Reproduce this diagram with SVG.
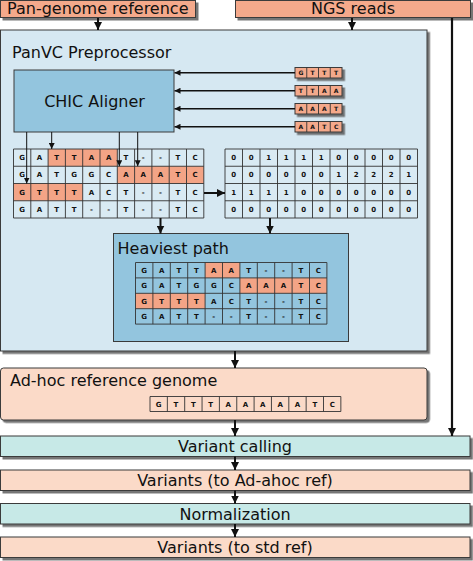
<svg xmlns="http://www.w3.org/2000/svg" width="473" height="561" viewBox="0 0 473 561">
<style>
text{font-family:"DejaVu Sans","Liberation Sans",sans-serif;fill:#111}
.t{font-size:16px}
.c{text-anchor:middle}
.m{font-size:7px;font-weight:bold;text-anchor:middle}
.r{font-size:6px;font-weight:bold;text-anchor:middle}
.box{stroke:#3a3a3a;stroke-width:1}
.org{fill:#f4a98b}
.peach{fill:#fbdac8}
.cyan{fill:#c7e9e7}
.pan{fill:#d6e8f2}
.blue{fill:#93c5de}
.grid{fill:none;stroke:#333;stroke-width:0.9}
.hl{fill:#f3a486}
.cn{stroke:#111;fill:none}
</style>
<defs>
<filter id="sh" x="-5%" y="-5%" width="115%" height="130%">
<feDropShadow dx="2.5" dy="2.5" stdDeviation="0.6" flood-color="#555" flood-opacity="0.8"/>
</filter>
<marker id="ah" viewBox="0 0 10 10" refX="10" refY="5" markerWidth="8" markerHeight="8" markerUnits="userSpaceOnUse" orient="auto">
<path d="M0,0 L10,5 L0,10 z" fill="#111"/>
</marker>
<marker id="as" viewBox="0 0 10 10" refX="10" refY="5" markerWidth="6" markerHeight="6" markerUnits="userSpaceOnUse" orient="auto">
<path d="M0,0 L10,5 L0,10 z" fill="#111"/>
</marker>
</defs>

<g id="pan-genome">
<rect class="box org" x="0.5" y="0.5" width="195" height="17" filter="url(#sh)"/>
<text class="t" x="7" y="14">Pan-genome reference</text>
</g>
<g id="ngs-reads">
<rect class="box org" x="235.5" y="0.5" width="235" height="17" filter="url(#sh)"/>
<text class="t c" x="353" y="14">NGS reads</text>
</g>

<g id="panvc">
<rect class="box pan" x="0.5" y="30" width="426.5" height="321" filter="url(#sh)"/>
<text class="t" x="12" y="58">PanVC Preprocessor</text>
</g>

<g id="chic">
<rect class="box blue" x="14" y="70" width="160" height="62"/>
<text class="t c" x="94.5" y="107">CHIC Aligner</text>
</g>

<g id="reads">
<g filter="url(#sh)">
<rect class="box org" x="295" y="67.5" width="47" height="10.5" stroke-width="0.8"/>
<rect class="box org" x="295" y="85.5" width="47" height="10.5" stroke-width="0.8"/>
<rect class="box org" x="295" y="103.5" width="47" height="10.5" stroke-width="0.8"/>
<rect class="box org" x="295" y="121.5" width="47" height="10.5" stroke-width="0.8"/>
</g>
<path class="grid" d="M306.75,67.5V78M318.5,67.5V78M330.25,67.5V78M306.75,85.5V96M318.5,85.5V96M330.25,85.5V96M306.75,103.5V114M318.5,103.5V114M330.25,103.5V114M306.75,121.5V132M318.5,121.5V132M330.25,121.5V132"/>
<text class="r" x="300.9 312.6 324.4 336.1" y="74.9">GTTT</text>
<text class="r" x="300.9 312.6 324.4 336.1" y="92.9">TTAA</text>
<text class="r" x="300.9 312.6 324.4 336.1" y="110.9">AAAT</text>
<text class="r" x="300.9 312.6 324.4 336.1" y="128.9">AATC</text>
</g>

<g id="alignment-matrix">
<rect x="13.5" y="149" width="190.3" height="69" fill="#d9eaf3"/>
<rect class="hl" x="48.1" y="149" width="69.2" height="17.25"/>
<rect class="hl" x="117.3" y="166.25" width="86.5" height="17.25"/>
<rect class="hl" x="13.5" y="183.5" width="69.2" height="17.25"/>
<path class="grid" d="M13.5,149H203.8V218H13.5z M30.8,149V218M48.1,149V218M65.4,149V218M82.7,149V218M100,149V218M117.3,149V218M134.6,149V218M151.9,149V218M169.2,149V218M186.5,149V218M13.5,166.25H203.8M13.5,183.5H203.8M13.5,200.75H203.8"/>
<text class="m" x="22.15 39.45 56.75 74.05 91.35 108.65 125.95 143.25 160.55 177.85 195.15" y="160.1">GATTAAT--TC</text>
<text class="m" x="22.15 39.45 56.75 74.05 91.35 108.65 125.95 143.25 160.55 177.85 195.15" y="177.4">GATGGCAAATC</text>
<text class="m" x="22.15 39.45 56.75 74.05 91.35 108.65 125.95 143.25 160.55 177.85 195.15" y="194.6">GTTTACT--TC</text>
<text class="m" x="22.15 39.45 56.75 74.05 91.35 108.65 125.95 143.25 160.55 177.85 195.15" y="211.9">GATT--T--TC</text>
</g>

<g id="coverage-matrix">
<rect x="225" y="149" width="192.5" height="69" fill="#d9eaf3"/>
<path class="grid" d="M225,149H417.5V218H225z M242.5,149V218M260,149V218M277.5,149V218M295,149V218M312.5,149V218M330,149V218M347.5,149V218M365,149V218M382.5,149V218M400,149V218M225,166.25H417.5M225,183.5H417.5M225,200.75H417.5"/>
<text class="m" x="233.75 251.25 268.75 286.25 303.75 321.25 338.75 356.25 373.75 391.25 408.75" y="160.1">00111100000</text>
<text class="m" x="233.75 251.25 268.75 286.25 303.75 321.25 338.75 356.25 373.75 391.25 408.75" y="177.4">00000012221</text>
<text class="m" x="233.75 251.25 268.75 286.25 303.75 321.25 338.75 356.25 373.75 391.25 408.75" y="194.6">11110000000</text>
<text class="m" x="233.75 251.25 268.75 286.25 303.75 321.25 338.75 356.25 373.75 391.25 408.75" y="211.9">00000000000</text>
</g>

<g id="heaviest-path">
<rect class="box blue" x="113.5" y="233.5" width="235" height="108"/>
<text class="t" x="117.5" y="253.5">Heaviest path</text>
<rect class="hl" x="205.1" y="262.5" width="34.8" height="15.4"/>
<rect class="hl" x="239.9" y="277.9" width="87" height="15.4"/>
<rect class="hl" x="135.5" y="293.3" width="69.6" height="15.4"/>
<path class="grid" d="M135.5,262.5H326.9V324.1H135.5z M152.9,262.5V324.1M170.3,262.5V324.1M187.7,262.5V324.1M205.1,262.5V324.1M222.5,262.5V324.1M239.9,262.5V324.1M257.3,262.5V324.1M274.7,262.5V324.1M292.1,262.5V324.1M309.5,262.5V324.1M135.5,277.9H326.9M135.5,293.3H326.9M135.5,308.7H326.9"/>
<text class="m" x="144.2 161.6 179 196.4 213.8 231.2 248.6 266 283.4 300.8 318.2" y="272.7">GATTAAT--TC</text>
<text class="m" x="144.2 161.6 179 196.4 213.8 231.2 248.6 266 283.4 300.8 318.2" y="288.1">GATGGCAAATC</text>
<text class="m" x="144.2 161.6 179 196.4 213.8 231.2 248.6 266 283.4 300.8 318.2" y="303.5">GTTTACT--TC</text>
<text class="m" x="144.2 161.6 179 196.4 213.8 231.2 248.6 266 283.4 300.8 318.2" y="318.9">GATT--T--TC</text>
</g>

<g id="adhoc">
<rect class="box peach" x="0.5" y="368" width="426.5" height="52" rx="3" filter="url(#sh)"/>
<text class="t" x="10" y="386">Ad-hoc reference genome</text>
<path class="grid" d="M150,396.5H340.85V411.5H150z M167.35,396.5V411.5M184.7,396.5V411.5M202.05,396.5V411.5M219.4,396.5V411.5M236.75,396.5V411.5M254.1,396.5V411.5M271.45,396.5V411.5M288.8,396.5V411.5M306.15,396.5V411.5M323.5,396.5V411.5"/>
<text class="m" x="158.7 176 193.4 210.7 228.1 245.4 262.8 280.1 297.5 314.8 332.2" y="406.6">GTTTAAAAATC</text>
</g>

<g id="variant-calling">
<rect class="box cyan" x="0.5" y="436" width="469.5" height="20.5" filter="url(#sh)"/>
<text class="t c" x="235" y="452">Variant calling</text>
</g>
<g id="variants-adhoc">
<rect class="box peach" x="0.5" y="470" width="469.5" height="20.5" filter="url(#sh)"/>
<text class="t c" x="235" y="486">Variants (to Ad-ahoc ref)</text>
</g>
<g id="normalization">
<rect class="box cyan" x="0.5" y="503.5" width="469.5" height="20.5" filter="url(#sh)"/>
<text class="t c" x="235" y="519.5">Normalization</text>
</g>
<g id="variants-std">
<rect class="box peach" x="0.5" y="537" width="469.5" height="20.5" filter="url(#sh)"/>
<text class="t c" x="235" y="553">Variants (to std ref)</text>
</g>

<g id="connectors">
<path class="cn" stroke-width="2" d="M98,18V30" marker-end="url(#ah)"/>
<path class="cn" stroke-width="2" d="M352,18V30" marker-end="url(#ah)"/>
<path class="cn" stroke-width="2.2" d="M452,18V436" marker-end="url(#ah)"/>
<path class="cn" stroke-width="1.3" d="M295,72.75H174.5" marker-end="url(#as)"/>
<path class="cn" stroke-width="1.3" d="M295,90.75H174.5" marker-end="url(#as)"/>
<path class="cn" stroke-width="1.3" d="M295,108.75H174.5" marker-end="url(#as)"/>
<path class="cn" stroke-width="1.3" d="M295,126.75H174.5" marker-end="url(#as)"/>
<path class="cn" stroke-width="1" d="M26.7,132V183.5" marker-end="url(#as)"/>
<path class="cn" stroke-width="1" d="M51.7,132V149" marker-end="url(#as)"/>
<path class="cn" stroke-width="1" d="M119.3,132V166.25" marker-end="url(#as)"/>
<path class="cn" stroke-width="1" d="M137.7,132V166.25" marker-end="url(#as)"/>
<path class="cn" stroke-width="2" d="M204,193H225" marker-end="url(#ah)"/>
<path class="cn" stroke-width="2" d="M160.5,218V233.5" marker-end="url(#ah)"/>
<path class="cn" stroke-width="2" d="M270,218V233.5" marker-end="url(#ah)"/>
<path class="cn" stroke-width="2" d="M235,351V368" marker-end="url(#ah)"/>
<path class="cn" stroke-width="2" d="M235,420V436" marker-end="url(#ah)"/>
<path class="cn" stroke-width="2" d="M235,456.5V470" marker-end="url(#ah)"/>
<path class="cn" stroke-width="2" d="M235,490.5V503.5" marker-end="url(#ah)"/>
<path class="cn" stroke-width="2" d="M235,524V537" marker-end="url(#ah)"/>
</g>
</svg>
